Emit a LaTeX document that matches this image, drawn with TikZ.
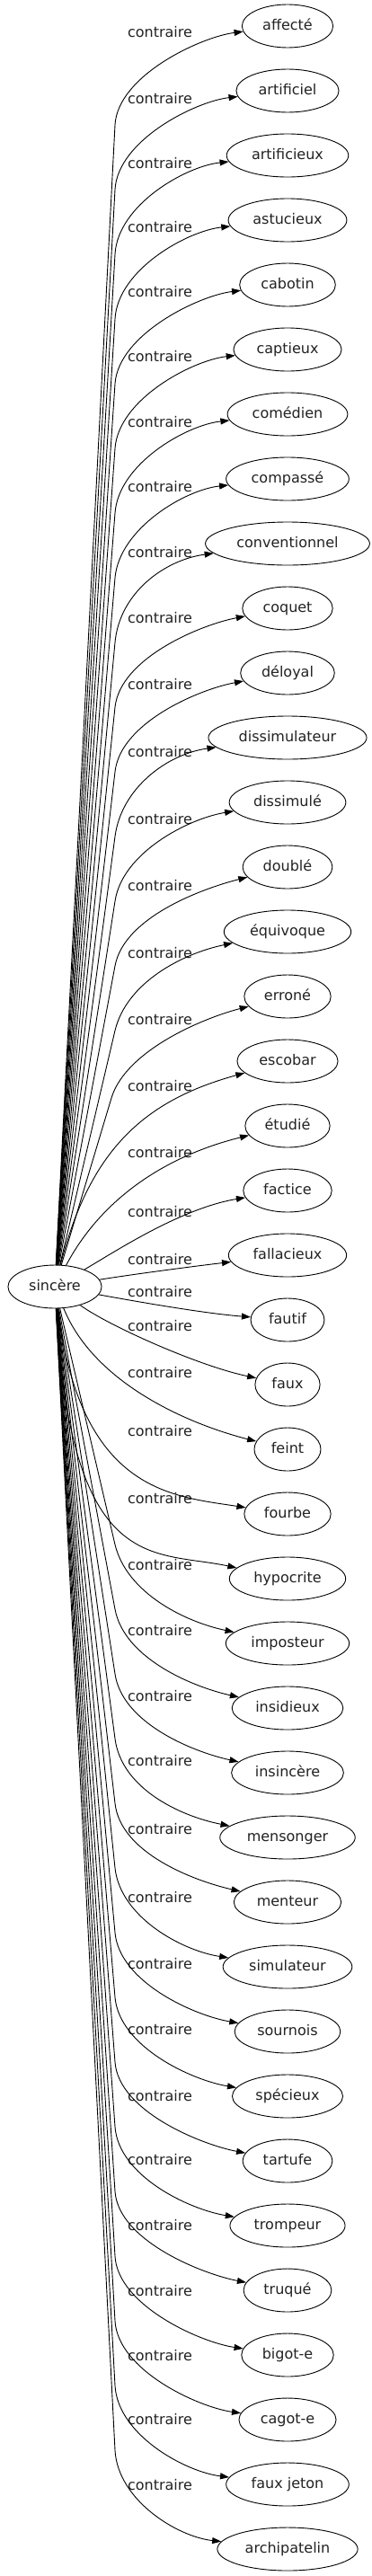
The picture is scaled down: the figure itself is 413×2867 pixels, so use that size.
\documentclass[tikz,border=0pt]{standalone}
\usepackage{fontspec}
\setmainfont{DejaVu Sans}
\usetikzlibrary{arrows.meta,calc,shapes.geometric}
\definecolor{ink}{HTML}{000000}
\definecolor{inktext}{HTML}{222222}

\begin{document}
\begin{tikzpicture}[x=1pt,y=-1pt,every node/.style={font=\fontsize{16}{19}\selectfont},
   word/.style={draw=ink,ellipse,line width=0.9pt,inner xsep=8pt,inner ysep=0pt,minimum height=48pt,text height=12pt,text depth=4pt,text=inktext},
   lab/.style={inner sep=0pt,text=inktext},
   rel/.style={draw=ink,line width=0.9pt,-{Triangle[length=10pt,width=7pt]}}]
\useasboundingbox (0,0) rectangle (413,2867);
% centre word
\node[word] (sc) at (61,1432) {sincère};
% antonyms and their labels
\node[word] (c1) at (320,29) {affecté};          \node[lab] (l1) at (178,36) {contraire};
\node[word] (c2) at (320,101) {artificiel};      \node[lab] (l2) at (178,110) {contraire};
\node[word] (c3) at (320,173) {artificieux};     \node[lab] (l3) at (178,182) {contraire};
\node[word] (c4) at (320,245) {astucieux};       \node[lab] (l4) at (178,253) {contraire};
\node[word] (c5) at (320,317) {cabotin};         \node[lab] (l5) at (178,325) {contraire};
\node[word] (c6) at (320,389) {captieux};        \node[lab] (l6) at (178,397) {contraire};
\node[word] (c7) at (320,461) {comédien};        \node[lab] (l7) at (178,470) {contraire};
\node[word] (c8) at (320,533) {compassé};        \node[lab] (l8) at (178,542) {contraire};
\node[word] (c9) at (320,605) {conventionnel};   \node[lab] (l9) at (178,615) {contraire};
\node[word] (c10) at (320,677) {coquet};         \node[lab] (l10) at (178,688) {contraire};
\node[word] (c11) at (320,749) {déloyal};        \node[lab] (l11) at (178,762) {contraire};
\node[word] (c12) at (320,821) {dissimulateur};  \node[lab] (l12) at (178,837) {contraire};
\node[word] (c13) at (320,893) {dissimulé};      \node[lab] (l13) at (178,912) {contraire};
\node[word] (c14) at (320,965) {doublé};         \node[lab] (l14) at (178,986) {contraire};
\node[word] (c15) at (320,1037) {équivoque};     \node[lab] (l15) at (178,1061) {contraire};
\node[word] (c16) at (320,1109) {erroné};        \node[lab] (l16) at (178,1135) {contraire};
\node[word] (c17) at (320,1181) {escobar};       \node[lab] (l17) at (178,1209) {contraire};
\node[word] (c18) at (320,1253) {étudié};        \node[lab] (l18) at (178,1283) {contraire};
\node[word] (c19) at (320,1325) {factice};       \node[lab] (l19) at (178,1349) {contraire};
\node[word] (c20) at (320,1397) {fallacieux};    \node[lab] (l20) at (178,1402) {contraire};
\node[word] (c21) at (320,1469) {fautif};        \node[lab] (l21) at (178,1438) {contraire};
\node[word] (c22) at (320,1541) {faux};          \node[lab] (l22) at (178,1476) {contraire};
\node[word] (c23) at (320,1613) {feint};         \node[lab] (l23) at (178,1528) {contraire};
\node[word] (c24) at (320,1685) {fourbe};        \node[lab] (l24) at (178,1593) {contraire};
\node[word] (c25) at (320,1757) {hypocrite};     \node[lab] (l25) at (178,1668) {contraire};
\node[word] (c26) at (320,1829) {imposteur};     \node[lab] (l26) at (178,1742) {contraire};
\node[word] (c27) at (320,1901) {insidieux};     \node[lab] (l27) at (178,1815) {contraire};
\node[word] (c28) at (320,1973) {insincère};     \node[lab] (l28) at (178,1888) {contraire};
\node[word] (c29) at (320,2045) {mensonger};     \node[lab] (l29) at (178,1960) {contraire};
\node[word] (c30) at (320,2117) {menteur};       \node[lab] (l30) at (178,2036) {contraire};
\node[word] (c31) at (320,2189) {simulateur};    \node[lab] (l31) at (178,2112) {contraire};
\node[word] (c32) at (320,2261) {sournois};      \node[lab] (l32) at (178,2186) {contraire};
\node[word] (c33) at (320,2333) {spécieux};      \node[lab] (l33) at (178,2259) {contraire};
\node[word] (c34) at (320,2405) {tartufe};       \node[lab] (l34) at (178,2333) {contraire};
\node[word] (c35) at (320,2477) {trompeur};      \node[lab] (l35) at (178,2404) {contraire};
\node[word] (c36) at (320,2549) {truqué};        \node[lab] (l36) at (178,2477) {contraire};
\node[word] (c37) at (320,2621) {bigot-e};       \node[lab] (l37) at (178,2550) {contraire};
\node[word] (c38) at (320,2693) {cagot-e};       \node[lab] (l38) at (178,2622) {contraire};
\node[word] (c39) at (320,2765) {faux jeton};    \node[lab] (l39) at (178,2693) {contraire};
\node[word] (c40) at (320,2837) {archipatelin};  \node[lab] (l40) at (178,2765) {contraire};
% edges going up
\draw[rel] (sc) -- (128,139) .. controls (131,84) and ($(c1.west)+(-45,12)$) .. (c1);
\draw[rel] (sc) -- (128,211) .. controls (131,156) and ($(c2.west)+(-45,12)$) .. (c2);
\draw[rel] (sc) -- (128,283) .. controls (131,228) and ($(c3.west)+(-45,12)$) .. (c3);
\draw[rel] (sc) -- (128,355) .. controls (131,300) and ($(c4.west)+(-45,12)$) .. (c4);
\draw[rel] (sc) -- (128,427) .. controls (132,372) and ($(c5.west)+(-45,12)$) .. (c5);
\draw[rel] (sc) -- (128,499) .. controls (132,444) and ($(c6.west)+(-45,12)$) .. (c6);
\draw[rel] (sc) -- (128,571) .. controls (132,516) and ($(c7.west)+(-45,12)$) .. (c7);
\draw[rel] (sc) -- (128,643) .. controls (133,588) and ($(c8.west)+(-45,12)$) .. (c8);
\draw[rel] (sc) -- (128,715) .. controls (133,660) and ($(c9.west)+(-45,18)$) .. (c9);
\draw[rel] (sc) -- (128,787) .. controls (134,732) and ($(c10.west)+(-45,18)$) .. (c10);
\draw[rel] (sc) -- (128,859) .. controls (134,804) and ($(c11.west)+(-45,18)$) .. (c11);
\draw[rel] (sc) -- (128,931) .. controls (135,877) and ($(c12.west)+(-45,18)$) .. (c12);
\draw[rel] (sc) -- (128,1003) .. controls (136,949) and ($(c13.west)+(-45,18)$) .. (c13);
\draw[rel] (sc) -- (128,1075) .. controls (138,1021) and ($(c14.west)+(-45,24)$) .. (c14);
\draw[rel] (sc) -- (128,1147) .. controls (141,1093) and ($(c15.west)+(-45,24)$) .. (c15);
\draw[rel] (sc) -- (124,1222) .. controls (140,1169) and ($(c16.west)+(-45,24)$) .. (c16);
% edges near the centre
\draw[rel] (sc) .. controls (100,1280) and (160,1225) .. (c17);
\draw[rel] (sc) .. controls (115,1330) and (190,1285) .. (c18);
\draw[rel] (sc) .. controls (125,1395) and (200,1345) .. (c19);
\draw[rel] (sc) .. controls (150,1418) and (210,1410) .. (c20);
\draw[rel] (sc) .. controls (160,1450) and (230,1462) .. (c21);
\draw[rel] (sc) .. controls (120,1475) and (220,1520) .. (c22);
\draw[rel] (sc) .. controls (105,1540) and (210,1585) .. (c23);
\draw[rel] (sc) .. controls (90,1660) and (190,1665) .. (c24);
\draw[rel] (sc) .. controls (80,1755) and (170,1725) .. (c25);
% edges going down
\draw[rel] (sc) -- (128,1719) .. controls (141,1773) and ($(c26.west)+(-45,-24)$) .. (c26);
\draw[rel] (sc) -- (128,1791) .. controls (138,1845) and ($(c27.west)+(-45,-24)$) .. (c27);
\draw[rel] (sc) -- (128,1863) .. controls (136,1917) and ($(c28.west)+(-45,-24)$) .. (c28);
\draw[rel] (sc) -- (128,1935) .. controls (135,1990) and ($(c29.west)+(-45,-24)$) .. (c29);
\draw[rel] (sc) -- (128,2007) .. controls (134,2062) and ($(c30.west)+(-45,-24)$) .. (c30);
\draw[rel] (sc) -- (128,2079) .. controls (134,2134) and ($(c31.west)+(-45,-18)$) .. (c31);
\draw[rel] (sc) -- (128,2151) .. controls (133,2206) and ($(c32.west)+(-45,-18)$) .. (c32);
\draw[rel] (sc) -- (128,2223) .. controls (133,2278) and ($(c33.west)+(-45,-18)$) .. (c33);
\draw[rel] (sc) -- (128,2295) .. controls (132,2350) and ($(c34.west)+(-45,-18)$) .. (c34);
\draw[rel] (sc) -- (128,2367) .. controls (132,2422) and ($(c35.west)+(-45,-18)$) .. (c35);
\draw[rel] (sc) -- (128,2439) .. controls (132,2494) and ($(c36.west)+(-45,-18)$) .. (c36);
\draw[rel] (sc) -- (128,2511) .. controls (131,2566) and ($(c37.west)+(-45,-14)$) .. (c37);
\draw[rel] (sc) -- (128,2583) .. controls (131,2638) and ($(c38.west)+(-45,-14)$) .. (c38);
\draw[rel] (sc) -- (128,2655) .. controls (131,2710) and ($(c39.west)+(-45,-14)$) .. (c39);
\draw[rel] (sc) -- (128,2727) .. controls (131,2782) and ($(c40.west)+(-45,-14)$) .. (c40);
\end{tikzpicture}
\end{document}
